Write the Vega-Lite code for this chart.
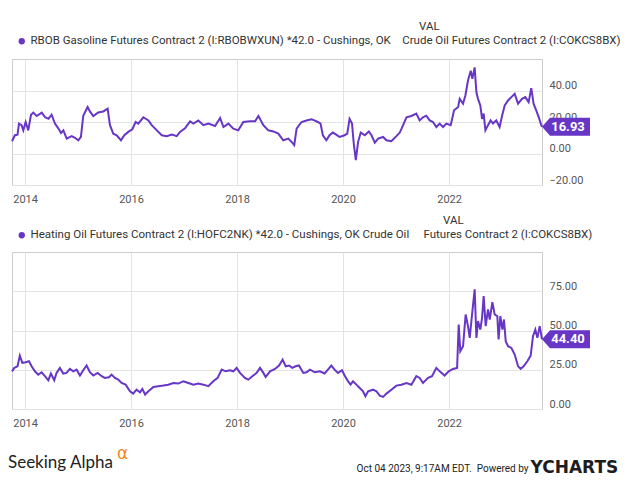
{
  "$schema": "https://vega.github.io/schema/vega-lite/v6.json",
  "background": "white",
  "padding": {"left": 7, "top": 20, "right": 4, "bottom": 2},
  "spacing": 9,
  "resolve": {"scale": {"color": "independent"}, "legend": {"color": "independent"}},
  "title": {"text": "α", "orient": "bottom", "anchor": "start", "frame": "group", "dx": 105, "offset": -17, "baseline": "alphabetic", "fontSize": 17, "color": "#f08a24", "font": "DejaVu Sans", "fontWeight": "normal"},
  "datasets": {
    "rbob": [
      {"date": "2013-10-03", "value": 7.8}, {"date": "2013-10-23", "value": 11.6}, {"date": "2013-11-10", "value": 12}, {"date": "2013-11-20", "value": 19}, {"date": "2013-12-08", "value": 18}, {"date": "2013-12-20", "value": 14.7},
      {"date": "2014-01-05", "value": 20}, {"date": "2014-01-23", "value": 14.7}, {"date": "2014-02-11", "value": 24.6}, {"date": "2014-02-27", "value": 26}, {"date": "2014-03-22", "value": 23.8}, {"date": "2014-04-26", "value": 26}, {"date": "2014-05-19", "value": 23}, {"date": "2014-06-11", "value": 22}, {"date": "2014-07-03", "value": 24.6}, {"date": "2014-07-26", "value": 19}, {"date": "2014-08-18", "value": 16}, {"date": "2014-09-06", "value": 13}, {"date": "2014-09-22", "value": 14.7}, {"date": "2014-10-15", "value": 9.5}, {"date": "2014-11-18", "value": 11}, {"date": "2014-12-11", "value": 10},
      {"date": "2015-01-03", "value": 8.4}, {"date": "2015-01-21", "value": 10.5}, {"date": "2015-02-06", "value": 24}, {"date": "2015-03-08", "value": 29.5}, {"date": "2015-03-24", "value": 26.7}, {"date": "2015-04-16", "value": 23.8}, {"date": "2015-05-20", "value": 26}, {"date": "2015-06-24", "value": 26.7}, {"date": "2015-07-24", "value": 28.4}, {"date": "2015-08-09", "value": 18}, {"date": "2015-09-01", "value": 12.6}, {"date": "2015-09-24", "value": 11.6}, {"date": "2015-10-24", "value": 8.4}, {"date": "2015-11-16", "value": 11.6}, {"date": "2015-12-13", "value": 13.7},
      {"date": "2016-01-10", "value": 15.4}, {"date": "2016-02-02", "value": 20}, {"date": "2016-02-20", "value": 19}, {"date": "2016-03-26", "value": 23}, {"date": "2016-04-30", "value": 21}, {"date": "2016-05-23", "value": 18}, {"date": "2016-06-27", "value": 14.7}, {"date": "2016-07-31", "value": 11.6}, {"date": "2016-09-03", "value": 11}, {"date": "2016-10-08", "value": 12}, {"date": "2016-11-11", "value": 11}, {"date": "2016-12-04", "value": 13.7},
      {"date": "2017-01-07", "value": 16}, {"date": "2017-02-11", "value": 20.4}, {"date": "2017-03-06", "value": 19}, {"date": "2017-04-09", "value": 21}, {"date": "2017-05-14", "value": 18}, {"date": "2017-06-17", "value": 19}, {"date": "2017-08-02", "value": 17.5}, {"date": "2017-09-06", "value": 22.5}, {"date": "2017-09-29", "value": 16.8}, {"date": "2017-11-02", "value": 19}, {"date": "2017-12-06", "value": 15.8},
      {"date": "2018-01-09", "value": 14.7}, {"date": "2018-02-13", "value": 20}, {"date": "2018-03-31", "value": 20.4}, {"date": "2018-05-05", "value": 20.4}, {"date": "2018-05-28", "value": 23.8}, {"date": "2018-07-01", "value": 18}, {"date": "2018-08-04", "value": 14.7}, {"date": "2018-09-08", "value": 14}, {"date": "2018-10-12", "value": 12.6}, {"date": "2018-11-15", "value": 8.4}, {"date": "2018-12-20", "value": 9.5},
      {"date": "2019-01-16", "value": 6.9}, {"date": "2019-01-30", "value": 5.3}, {"date": "2019-02-15", "value": 15.8}, {"date": "2019-03-21", "value": 20}, {"date": "2019-04-24", "value": 21}, {"date": "2019-05-29", "value": 21.7}, {"date": "2019-06-18", "value": 21}, {"date": "2019-07-11", "value": 20}, {"date": "2019-07-30", "value": 19}, {"date": "2019-08-15", "value": 11.6}, {"date": "2019-09-08", "value": 8.4}, {"date": "2019-09-30", "value": 11.6}, {"date": "2019-10-23", "value": 13.3}, {"date": "2019-11-15", "value": 12}, {"date": "2019-12-08", "value": 10.5},
      {"date": "2020-01-12", "value": 11.6}, {"date": "2020-01-30", "value": 12.6}, {"date": "2020-02-15", "value": 22}, {"date": "2020-03-03", "value": 19}, {"date": "2020-03-15", "value": 6.3}, {"date": "2020-03-29", "value": -4.2}, {"date": "2020-04-14", "value": 7.4}, {"date": "2020-05-02", "value": 13.3}, {"date": "2020-05-30", "value": 11.6}, {"date": "2020-06-27", "value": 14}, {"date": "2020-07-15", "value": 11.6}, {"date": "2020-08-07", "value": 6.9}, {"date": "2020-08-30", "value": 9.5}, {"date": "2020-10-03", "value": 10.5}, {"date": "2020-10-26", "value": 8.4}, {"date": "2020-11-29", "value": 7.8},
      {"date": "2021-01-03", "value": 11}, {"date": "2021-01-26", "value": 13.3}, {"date": "2021-02-18", "value": 18}, {"date": "2021-03-13", "value": 23}, {"date": "2021-04-16", "value": 23.8}, {"date": "2021-05-20", "value": 25.3}, {"date": "2021-06-12", "value": 21}, {"date": "2021-07-05", "value": 23}, {"date": "2021-07-28", "value": 24}, {"date": "2021-08-20", "value": 21}, {"date": "2021-09-12", "value": 20}, {"date": "2021-10-05", "value": 16.8}, {"date": "2021-10-28", "value": 19}, {"date": "2021-11-20", "value": 16.8}, {"date": "2021-12-13", "value": 19},
      {"date": "2022-01-12", "value": 18}, {"date": "2022-02-04", "value": 27.4}, {"date": "2022-03-04", "value": 29.5}, {"date": "2022-03-15", "value": 34.7}, {"date": "2022-04-07", "value": 31.6}, {"date": "2022-04-23", "value": 36.8}, {"date": "2022-05-11", "value": 46.3}, {"date": "2022-05-30", "value": 52.6}, {"date": "2022-06-10", "value": 47.4}, {"date": "2022-06-26", "value": 54.7}, {"date": "2022-07-08", "value": 38.9}, {"date": "2022-07-19", "value": 34.7}, {"date": "2022-08-04", "value": 30.5}, {"date": "2022-08-16", "value": 22}, {"date": "2022-08-27", "value": 25.3}, {"date": "2022-09-08", "value": 14.7}, {"date": "2022-09-26", "value": 18}, {"date": "2022-10-14", "value": 21}, {"date": "2022-10-30", "value": 19}, {"date": "2022-11-22", "value": 21}, {"date": "2022-12-15", "value": 16.8},
      {"date": "2023-01-01", "value": 24}, {"date": "2023-01-19", "value": 30.5}, {"date": "2023-02-11", "value": 33.7}, {"date": "2023-03-06", "value": 35.8}, {"date": "2023-03-29", "value": 37.9}, {"date": "2023-04-21", "value": 31.6}, {"date": "2023-05-18", "value": 34.7}, {"date": "2023-06-10", "value": 35.8}, {"date": "2023-07-03", "value": 32.6}, {"date": "2023-07-21", "value": 41.5}, {"date": "2023-08-06", "value": 31.6}, {"date": "2023-08-24", "value": 27.4}, {"date": "2023-09-11", "value": 23}, {"date": "2023-09-26", "value": 18.5}, {"date": "2023-10-03", "value": 16.93}
    ],
    "ho": [
      {"date": "2013-10-03", "value": 24}, {"date": "2013-10-19", "value": 26.2}, {"date": "2013-11-10", "value": 27.2}, {"date": "2013-11-26", "value": 34}, {"date": "2013-12-13", "value": 29.4},
      {"date": "2014-01-05", "value": 29.8}, {"date": "2014-01-28", "value": 30.4}, {"date": "2014-02-15", "value": 27.2}, {"date": "2014-03-10", "value": 24}, {"date": "2014-04-02", "value": 21.9}, {"date": "2014-04-25", "value": 23.4}, {"date": "2014-05-18", "value": 20.9}, {"date": "2014-06-10", "value": 18.3}, {"date": "2014-06-28", "value": 22.6}, {"date": "2014-07-21", "value": 18.3}, {"date": "2014-08-06", "value": 23}, {"date": "2014-08-29", "value": 26.2}, {"date": "2014-09-21", "value": 22.6}, {"date": "2014-10-14", "value": 23}, {"date": "2014-11-06", "value": 25.5}, {"date": "2014-11-29", "value": 24}, {"date": "2014-12-22", "value": 25.1},
      {"date": "2015-01-14", "value": 21.3}, {"date": "2015-02-06", "value": 24.7}, {"date": "2015-03-01", "value": 27.7}, {"date": "2015-03-24", "value": 23.4}, {"date": "2015-04-16", "value": 21.3}, {"date": "2015-05-16", "value": 23}, {"date": "2015-06-13", "value": 20.9}, {"date": "2015-07-05", "value": 19.8}, {"date": "2015-08-02", "value": 20.2}, {"date": "2015-08-20", "value": 21.9}, {"date": "2015-09-12", "value": 19.8}, {"date": "2015-10-05", "value": 18.7}, {"date": "2015-10-28", "value": 16.6}, {"date": "2015-11-25", "value": 15.5}, {"date": "2015-12-25", "value": 11.3},
      {"date": "2016-01-16", "value": 9.8}, {"date": "2016-02-08", "value": 12.3}, {"date": "2016-03-03", "value": 10.6}, {"date": "2016-03-19", "value": 12.8}, {"date": "2016-04-07", "value": 9.2}, {"date": "2016-04-30", "value": 11.3}, {"date": "2016-06-03", "value": 14}, {"date": "2016-07-08", "value": 14.5}, {"date": "2016-08-11", "value": 14.9}, {"date": "2016-09-14", "value": 15.5}, {"date": "2016-10-19", "value": 16.6}, {"date": "2016-11-22", "value": 16.2}, {"date": "2016-12-27", "value": 17.7},
      {"date": "2017-01-30", "value": 16.6}, {"date": "2017-03-06", "value": 15.5}, {"date": "2017-04-09", "value": 16.2}, {"date": "2017-05-14", "value": 15.5}, {"date": "2017-06-17", "value": 14.5}, {"date": "2017-07-21", "value": 17.7}, {"date": "2017-08-20", "value": 19.8}, {"date": "2017-09-17", "value": 25.1}, {"date": "2017-10-14", "value": 24}, {"date": "2017-11-13", "value": 24.7}, {"date": "2017-12-06", "value": 24}, {"date": "2017-12-29", "value": 26.2},
      {"date": "2018-01-21", "value": 23}, {"date": "2018-02-24", "value": 19.8}, {"date": "2018-03-19", "value": 18.7}, {"date": "2018-04-16", "value": 20.9}, {"date": "2018-05-16", "value": 23}, {"date": "2018-06-08", "value": 26.2}, {"date": "2018-07-01", "value": 23}, {"date": "2018-07-17", "value": 20.4}, {"date": "2018-08-16", "value": 24}, {"date": "2018-09-19", "value": 25.5}, {"date": "2018-10-17", "value": 27.7}, {"date": "2018-11-11", "value": 31.5}, {"date": "2018-12-02", "value": 27.2}, {"date": "2018-12-25", "value": 27.7},
      {"date": "2019-01-16", "value": 26.2}, {"date": "2019-02-08", "value": 27.2}, {"date": "2019-03-03", "value": 27.7}, {"date": "2019-04-02", "value": 23}, {"date": "2019-04-24", "value": 23.4}, {"date": "2019-05-18", "value": 25.1}, {"date": "2019-06-21", "value": 23.4}, {"date": "2019-07-25", "value": 24}, {"date": "2019-08-27", "value": 22.6}, {"date": "2019-09-19", "value": 25.1}, {"date": "2019-10-12", "value": 27.7}, {"date": "2019-11-04", "value": 25.1}, {"date": "2019-11-27", "value": 23}, {"date": "2019-12-25", "value": 24.7},
      {"date": "2020-01-12", "value": 21.3}, {"date": "2020-02-04", "value": 17.7}, {"date": "2020-02-22", "value": 15.5}, {"date": "2020-03-10", "value": 17.7}, {"date": "2020-04-02", "value": 15.5}, {"date": "2020-04-25", "value": 13.4}, {"date": "2020-05-18", "value": 11.3}, {"date": "2020-06-03", "value": 8.1}, {"date": "2020-06-22", "value": 11.3}, {"date": "2020-07-26", "value": 12.3}, {"date": "2020-08-18", "value": 11.3}, {"date": "2020-09-10", "value": 8.5}, {"date": "2020-10-03", "value": 7.7}, {"date": "2020-10-26", "value": 9.8}, {"date": "2020-11-29", "value": 12.3},
      {"date": "2021-01-03", "value": 14.9}, {"date": "2021-02-06", "value": 15.5}, {"date": "2021-03-13", "value": 16.6}, {"date": "2021-04-16", "value": 15.5}, {"date": "2021-05-20", "value": 20.9}, {"date": "2021-06-12", "value": 19.8}, {"date": "2021-07-05", "value": 16.6}, {"date": "2021-08-09", "value": 19.8}, {"date": "2021-09-05", "value": 20.9}, {"date": "2021-10-05", "value": 26.2}, {"date": "2021-10-28", "value": 24}, {"date": "2021-12-01", "value": 21.3}, {"date": "2021-12-29", "value": 24},
      {"date": "2022-01-28", "value": 25.5}, {"date": "2022-02-25", "value": 26.2}, {"date": "2022-03-08", "value": 53.8}, {"date": "2022-03-19", "value": 36.8}, {"date": "2022-04-07", "value": 40}, {"date": "2022-04-25", "value": 60.2}, {"date": "2022-05-11", "value": 52.8}, {"date": "2022-05-23", "value": 45.3}, {"date": "2022-06-08", "value": 60.2}, {"date": "2022-06-26", "value": 76.2}, {"date": "2022-07-08", "value": 45.3}, {"date": "2022-07-19", "value": 56}, {"date": "2022-08-04", "value": 50.6}, {"date": "2022-08-16", "value": 58.1}, {"date": "2022-08-27", "value": 71.9}, {"date": "2022-09-10", "value": 52.8}, {"date": "2022-09-26", "value": 63.4}, {"date": "2022-10-08", "value": 57}, {"date": "2022-10-26", "value": 68.1}, {"date": "2022-11-11", "value": 60.2}, {"date": "2022-11-29", "value": 59.2}, {"date": "2022-12-08", "value": 44.3}, {"date": "2022-12-20", "value": 59.2},
      {"date": "2023-01-03", "value": 50.6}, {"date": "2023-01-14", "value": 57}, {"date": "2023-01-26", "value": 43.2}, {"date": "2023-02-11", "value": 40}, {"date": "2023-03-06", "value": 38.9}, {"date": "2023-03-29", "value": 34.7}, {"date": "2023-04-21", "value": 27.2}, {"date": "2023-05-09", "value": 25.5}, {"date": "2023-05-29", "value": 27.2}, {"date": "2023-06-24", "value": 30.4}, {"date": "2023-07-17", "value": 34}, {"date": "2023-08-02", "value": 46.4}, {"date": "2023-08-18", "value": 50.6}, {"date": "2023-09-01", "value": 45.3}, {"date": "2023-09-17", "value": 52.8}, {"date": "2023-10-03", "value": 44.4}
    ]
  },
  "vconcat": [
    {
      "width": 530,
      "height": 126,
      "data": {"name": "rbob"},
      "layer": [
        {
          "mark": {"type": "line", "strokeWidth": 2, "color": "#6736c7"},
          "encoding": {
            "x": {"field": "date", "type": "temporal",
              "scale": {"domain": [{"year": 2013, "month": 10, "date": 3}, {"year": 2023, "month": 10, "date": 3}]},
              "axis": {"title": null, "format": "%Y", "grid": true, "labelPadding": 8,
                "values": [{"year": 2014, "month": 1, "date": 1}, {"year": 2016, "month": 1, "date": 1}, {"year": 2018, "month": 1, "date": 1}, {"year": 2020, "month": 1, "date": 1}, {"year": 2022, "month": 1, "date": 1}]}},
            "y": {"field": "value", "type": "quantitative",
              "scale": {"domain": [-20, 60], "nice": false, "zero": false},
              "axis": {"title": null, "orient": "right", "values": [-20, 0, 20, 40], "format": ".2f", "labelPadding": 7, "labelBaseline": "alphabetic", "labelOffset": -2}},
            "color": {"datum": "RBOB Gasoline Futures Contract 2 (I:RBOBWXUN) *42.0 - Cushings, OK\u00a0\u00a0\u00a0 Crude Oil Futures Contract 2 (I:COKCS8BX)", "type": "nominal",
              "scale": {"range": ["#6736c7"]},
              "legend": {"orient": "none", "legendX": 4, "legendY": -38, "title": "VAL",
                "encode": {"title": {"update": {"dx": {"value": 403}}}, "symbols": {"update": {"fill": {"value": "#6736c7"}, "stroke": {"value": "#6736c7"}}}}}}
          }
        },
        {
          "transform": [{"window": [{"op": "row_number", "as": "rn"}], "sort": [{"field": "date", "order": "descending"}]}, {"filter": "datum.rn === 1"}],
          "mark": {"type": "point", "shape": "M0,0L8,-9L48,-9L48,9L8,9Z", "size": 4, "filled": true, "opacity": 1, "color": "#6736c7", "strokeWidth": 0},
          "encoding": {"x": {"field": "date", "type": "temporal"}, "y": {"field": "value", "type": "quantitative"}}
        },
        {
          "transform": [{"window": [{"op": "row_number", "as": "rn"}], "sort": [{"field": "date", "order": "descending"}]}, {"filter": "datum.rn === 1"}],
          "mark": {"type": "text", "color": "white", "fontWeight": "bold", "fontSize": 13, "font": "Roboto", "align": "center", "baseline": "middle", "dx": 26},
          "encoding": {"x": {"field": "date", "type": "temporal"}, "y": {"field": "value", "type": "quantitative"}, "text": {"field": "value", "type": "quantitative", "format": ".2f"}}
        }
      ]
    },
    {
      "width": 530,
      "height": 157,
      "data": {"name": "ho"},
      "title": {"text": "Seeking Alpha", "orient": "bottom", "anchor": "start", "frame": "group", "dx": -4, "offset": -7, "baseline": "alphabetic", "fontSize": 17, "font": "Lato", "fontWeight": "normal", "color": "#222222"},
      "layer": [
        {
          "mark": {"type": "line", "strokeWidth": 2, "color": "#6736c7"},
          "encoding": {
            "x": {"field": "date", "type": "temporal",
              "scale": {"domain": [{"year": 2013, "month": 10, "date": 3}, {"year": 2023, "month": 10, "date": 3}]},
              "axis": {"format": "%Y", "grid": true, "labelPadding": 8,
                "values": [{"year": 2014, "month": 1, "date": 1}, {"year": 2016, "month": 1, "date": 1}, {"year": 2018, "month": 1, "date": 1}, {"year": 2020, "month": 1, "date": 1}, {"year": 2022, "month": 1, "date": 1}],
                "title": "Oct 04 2023, 9:17AM EDT.\u00a0\u00a0Powered by", "titleX": 516, "titleY": 62, "titleAlign": "right", "titleBaseline": "alphabetic", "titleFont": "Roboto", "titleFontSize": 10, "titleFontWeight": "normal", "titleColor": "#222222"}},
            "y": {"field": "value", "type": "quantitative",
              "scale": {"domain": [0, 100], "nice": false, "zero": false},
              "axis": {"orient": "right", "values": [0, 25, 50, 75], "format": ".2f", "labelPadding": 7, "labelBaseline": "alphabetic", "labelOffset": -2,
                "title": "YCHARTS", "titleAngle": 0, "titleX": -12, "titleY": 220, "titleAlign": "left", "titleBaseline": "alphabetic", "titleFont": "DejaVu Sans", "titleFontSize": 17, "titleFontWeight": "bold", "titleColor": "#1d1d1f"}},
            "color": {"datum": "Heating Oil Futures Contract 2 (I:HOFC2NK) *42.0 - Cushings, OK Crude Oil\u00a0\u00a0\u00a0\u00a0 Futures Contract 2 (I:COKCS8BX)", "type": "nominal",
              "scale": {"range": ["#6736c7"]},
              "legend": {"orient": "none", "legendX": 4, "legendY": -37, "title": "VAL",
                "encode": {"title": {"update": {"dx": {"value": 427}}}, "symbols": {"update": {"fill": {"value": "#6736c7"}, "stroke": {"value": "#6736c7"}}}}}}
          }
        },
        {
          "transform": [{"window": [{"op": "row_number", "as": "rn"}], "sort": [{"field": "date", "order": "descending"}]}, {"filter": "datum.rn === 1"}],
          "mark": {"type": "point", "shape": "M0,0L8,-9L48,-9L48,9L8,9Z", "size": 4, "filled": true, "opacity": 1, "color": "#6736c7", "strokeWidth": 0},
          "encoding": {"x": {"field": "date", "type": "temporal"}, "y": {"field": "value", "type": "quantitative"}}
        },
        {
          "transform": [{"window": [{"op": "row_number", "as": "rn"}], "sort": [{"field": "date", "order": "descending"}]}, {"filter": "datum.rn === 1"}],
          "mark": {"type": "text", "color": "white", "fontWeight": "bold", "fontSize": 13, "font": "Roboto", "align": "center", "baseline": "middle", "dx": 26},
          "encoding": {"x": {"field": "date", "type": "temporal"}, "y": {"field": "value", "type": "quantitative"}, "text": {"field": "value", "type": "quantitative", "format": ".2f"}}
        }
      ]
    }
  ],
  "config": {
    "view": {"stroke": "#cccccc", "strokeWidth": 1},
    "axis": {"gridColor": "#e3e3e3", "gridWidth": 1, "domain": false, "ticks": false, "tickSize": 0, "labelFont": "Roboto", "labelFontSize": 11, "labelColor": "#555555"},
    "legend": {"padding": 0, "titleFont": "Roboto", "titleFontSize": 11.5, "titleFontWeight": "normal", "titleColor": "#333333", "titlePadding": 3,
      "symbolType": "circle", "symbolSize": 40, "symbolStrokeWidth": 0, "symbolFillColor": "#6736c7",
      "labelFont": "Roboto", "labelFontSize": 11.5, "labelColor": "#333333", "labelLimit": 0, "labelOffset": 3}
  }
}
